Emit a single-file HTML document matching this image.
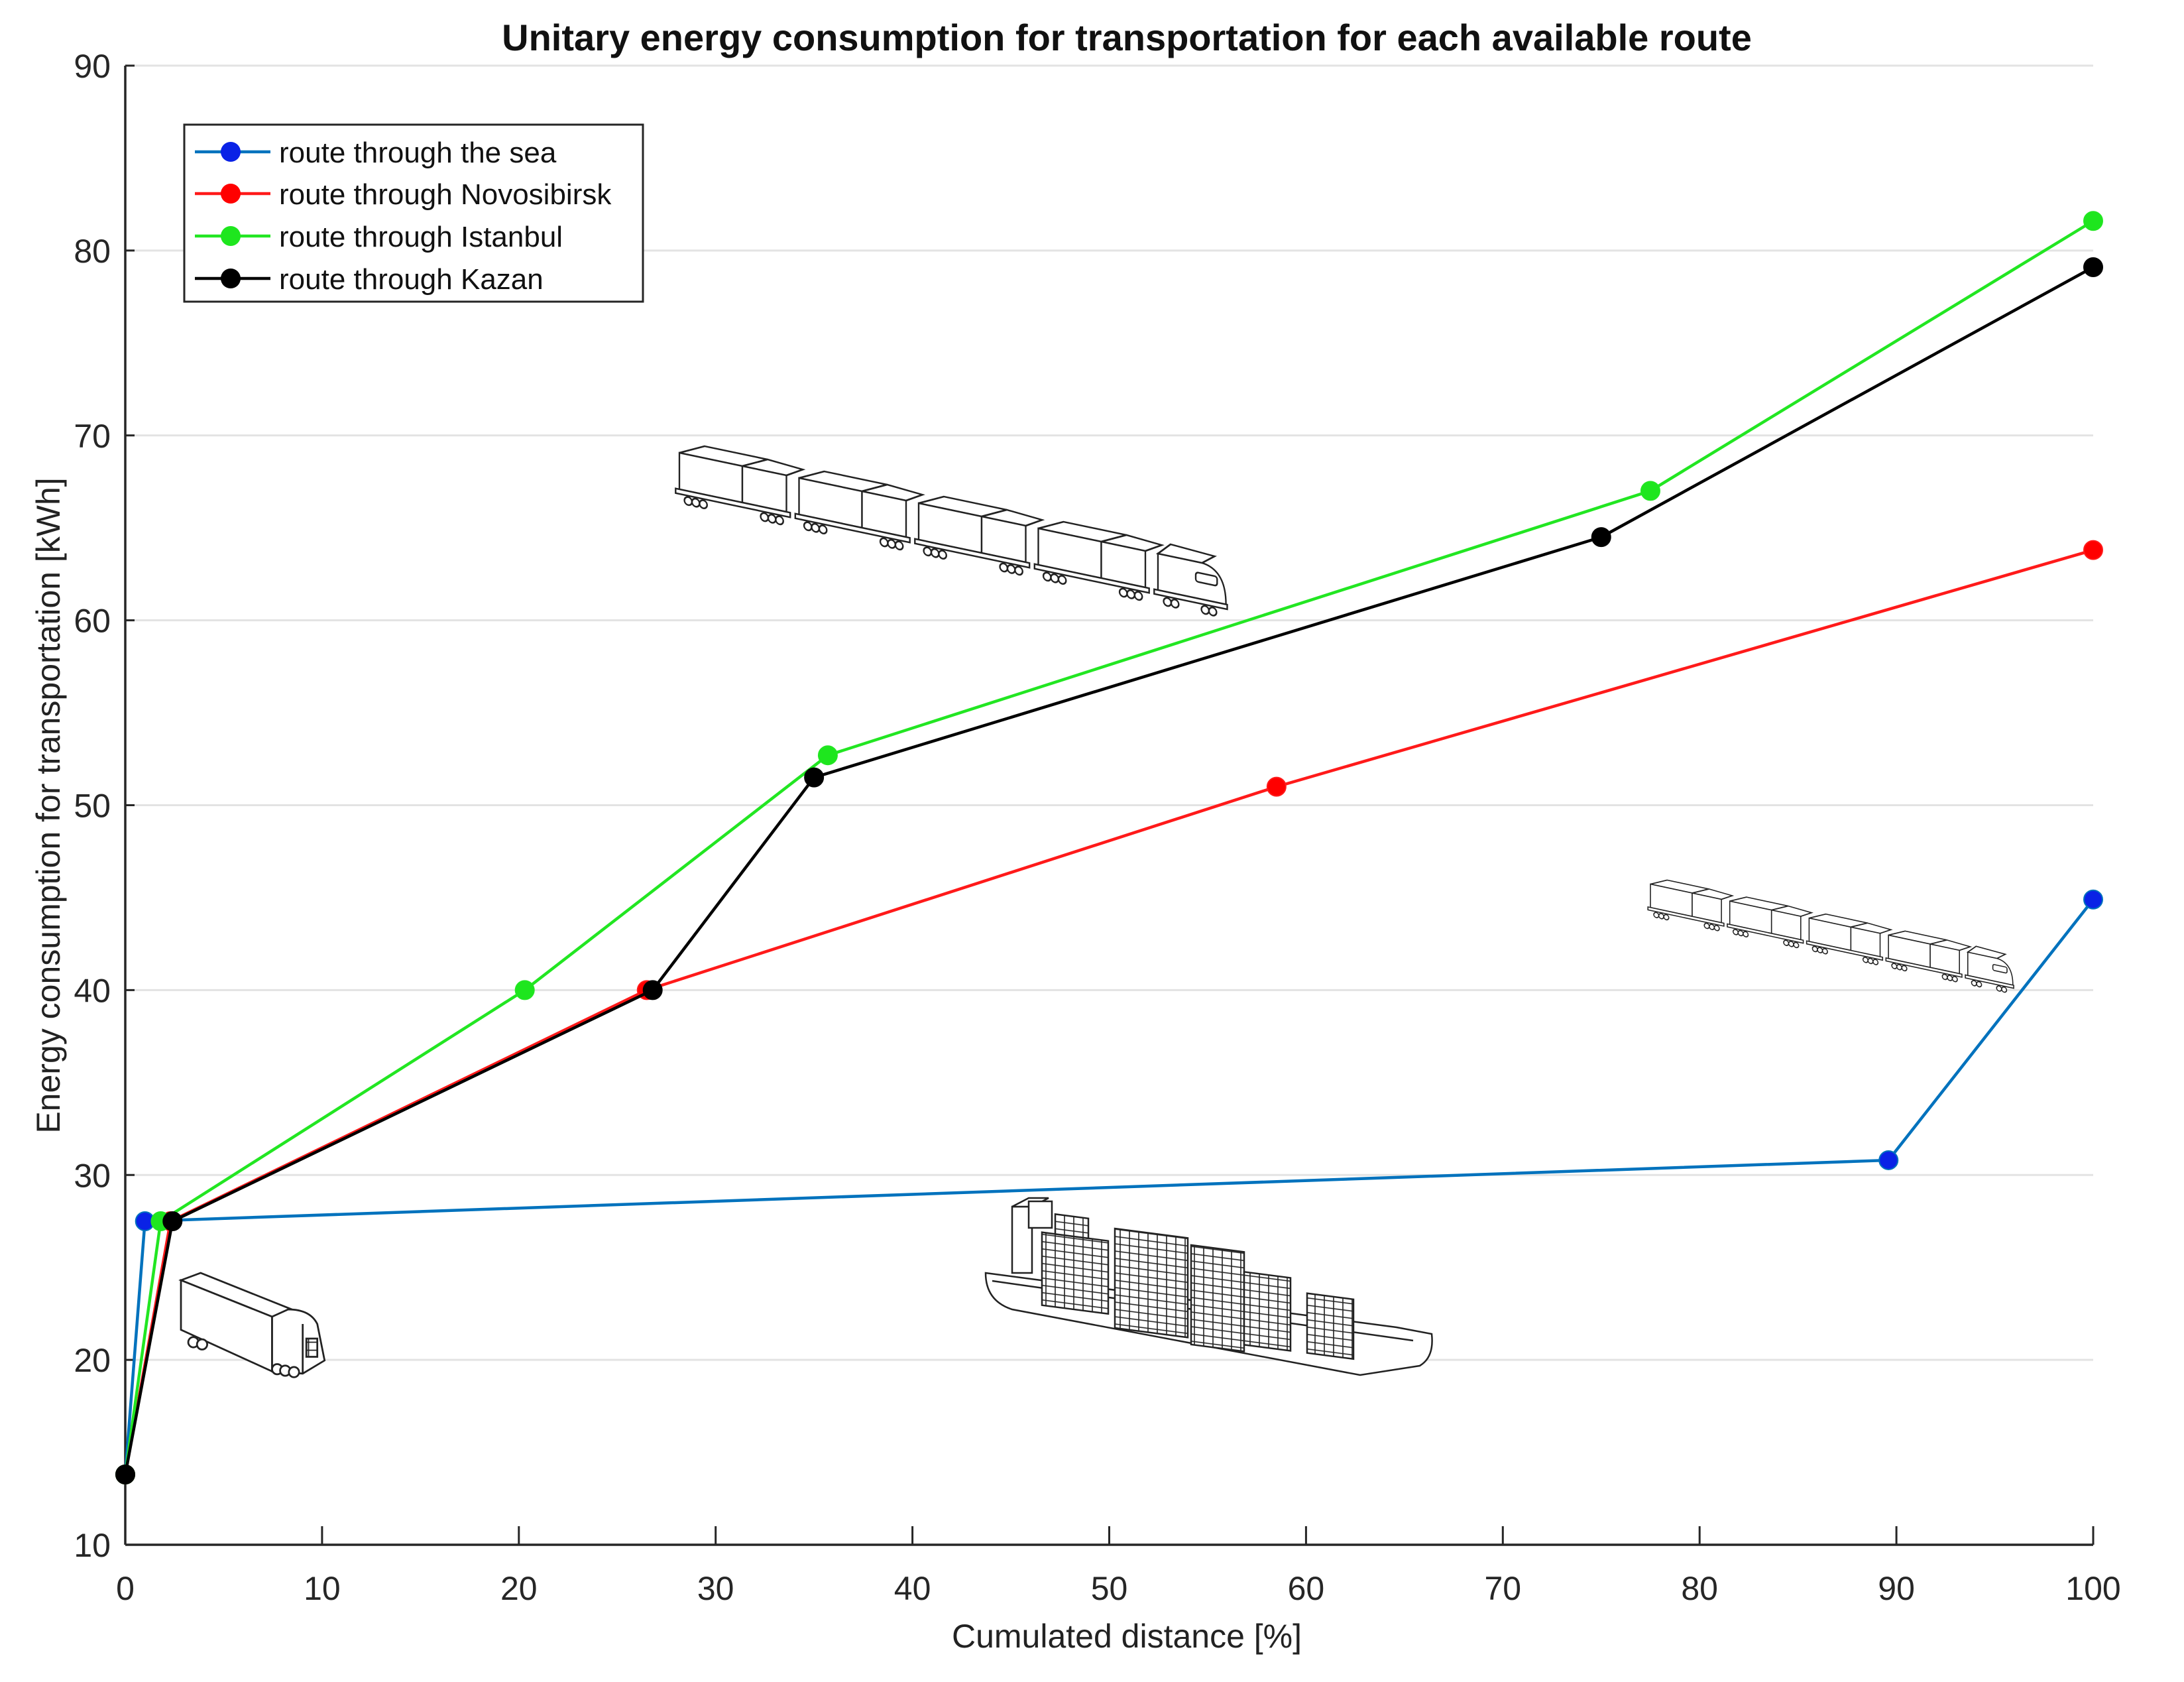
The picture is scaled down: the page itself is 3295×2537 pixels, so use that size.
<!DOCTYPE html>
<html><head><meta charset="utf-8">
<style>
html,body{margin:0;padding:0;background:#fff;}
svg{display:block;font-family:"Liberation Sans",Arial,sans-serif;}
</style></head>
<body>
<svg id="chart" width="3295" height="2537" viewBox="0 0 3295 2537" xmlns="http://www.w3.org/2000/svg">
<defs>
<pattern id="cont" width="14" height="11" patternUnits="userSpaceOnUse">
<rect width="14" height="11" fill="#fff" stroke="#222" stroke-width="1.6"/>
</pattern>
<g id="train">
  <g fill="#fff" stroke="#222" stroke-width="2.5">
    <g id="car">
      <polygon points="0,18 100,18 140,0 40,0"/>
      <rect x="0" y="18" width="100" height="55"/>
      <polygon points="100,18 170,18 196,4 140,0 " />
      <rect x="100" y="18" width="70" height="55"/>
      <rect x="-6" y="73" width="182" height="7"/>
      <circle cx="14" cy="88" r="6"/><circle cx="26" cy="88" r="6"/><circle cx="38" cy="88" r="6"/>
      <circle cx="135" cy="88" r="6"/><circle cx="147" cy="88" r="6"/><circle cx="159" cy="88" r="6"/>
    </g>
    <use href="#car" x="190"/>
    <use href="#car" x="380"/>
    <use href="#car" x="570"/>
    <path d="M760,18 L830,18 Q868,22 868,73 L760,73 Z"/>
    <polygon points="760,18 830,18 850,4 780,0"/>
    <rect x="820" y="34" width="34" height="14" rx="4"/>
    <rect x="754" y="73" width="116" height="7"/>
    <circle cx="775" cy="88" r="6"/><circle cx="787" cy="88" r="6"/><circle cx="835" cy="88" r="6"/><circle cx="847" cy="88" r="6"/>
  </g>
</g>
</defs>

<rect width="3295" height="2537" fill="#fff"/>
<g id="grid"></g>
<g id="pictures">
  <g transform="matrix(0.95,0.2,0,1,1025,665)"><use href="#train"/></g>
  <g transform="matrix(0.63,0.135,0,0.64,2490,1322)"><use href="#train"/></g>
  <g fill="#fff" stroke="#222" stroke-width="2.5" transform="translate(-18,-28)">
    <path d="M1505,1948 L2125,2030 L2178,2040 Q2182,2075 2160,2088 L2070,2102 L1545,2003 Q1505,1990 1505,1948 Z"/>
    <path d="M1515,1960 L2150,2050" fill="none"/>
    <rect x="1545" y="1848" width="30" height="100"/>
    <polygon points="1545,1848 1575,1848 1600,1835 1570,1835"/>
    <rect x="1570" y="1840" width="35" height="40"/>
    <g transform="matrix(1,0.13,0,1,0,0)">
      <rect x="1590" y="1680" width="100" height="110" fill="url(#cont)"/>
      <rect x="1610" y="1650" width="50" height="30" fill="url(#cont)"/>
      <rect x="1700" y="1660" width="110" height="150" fill="url(#cont)"/>
      <rect x="1815" y="1670" width="80" height="150" fill="url(#cont)"/>
      <rect x="1895" y="1700" width="70" height="110" fill="url(#cont)"/>
      <rect x="1990" y="1720" width="70" height="90" fill="url(#cont)"/>
    </g>
  </g>
  <g fill="#fff" stroke="#222" stroke-width="2.5" transform="translate(273,1920) scale(1.1) translate(-273,-1940)">
    <polygon points="273,1950 300,1940 425,1990 398,2000"/>
    <polygon points="273,1950 398,2000 398,2075 273,2018"/>
    <path d="M398,2000 L420,1990 Q450,1990 460,2010 L470,2060 L440,2078 L398,2075 Z"/>
    <path d="M440,2010 L440,2078" fill="none"/>
    <rect x="445" y="2030" width="15" height="25" fill="url(#cont)"/>
    <circle cx="290" cy="2035" r="7"/><circle cx="302" cy="2038" r="7"/>
    <circle cx="405" cy="2072" r="7"/><circle cx="416" cy="2074" r="7"/><circle cx="428" cy="2076" r="7"/>
  </g>
</g>
<g id="axes"></g>
<g id="series"></g>
<text x="1700" y="76" text-anchor="middle" font-size="56" font-weight="bold" fill="#111">Unitary energy consumption for transportation for each available route</text>
<text x="1700" y="2485" text-anchor="middle" font-size="50" fill="#222">Cumulated distance [%]</text>
<text transform="translate(90,1215) rotate(-90)" text-anchor="middle" font-size="50" fill="#222">Energy consumption for transportation [kWh]</text>
<g id="legend"></g>

<script>
const xTicks = [0,10,20,30,40,50,60,70,80,90,100];
const yTicks = [10,20,30,40,50,60,70,80,90];
const seriesNames = ["route through the sea","route through Novosibirsk","route through Istanbul","route through Kazan"];
const seaX = [0,1,89.6,100];
const seaY = [13.8,27.5,30.8,44.9];
const novX = [0,2.3,26.5,58.5,100];
const novY = [13.8,27.5,40,51,63.8];
const istX = [0,1.8,20.3,35.7,77.5,100];
const istY = [13.8,27.5,40,52.7,67,81.6];
const kazX = [0,2.4,26.8,35,75,100];
const kazY = [13.8,27.5,40,51.5,64.5,79.1];

const NS="http://www.w3.org/2000/svg";
const X0=189,X1=3158,Y0=2330,Y1=99;
function sx(v){return X0+(v-0)/(100-0)*(X1-X0);}
function sy(v){return Y0-(v-10)/(90-10)*(Y0-Y1);}
function mk(tag,attrs,parent){const e=document.createElementNS(NS,tag);for(const k in attrs)e.setAttribute(k,attrs[k]);parent.appendChild(e);return e;}

const grid=document.getElementById('grid');
const axes=document.getElementById('axes');
yTicks.forEach(t=>{
  if(t>10){
    const g=mk('line',{x1:X0,x2:X1,y1:sy(t),y2:sy(t),stroke:'#e3e3e3','stroke-width':3},grid);
    
    
  }
  const tk=mk('line',{x1:X0,x2:X0+14,y1:sy(t),y2:sy(t),stroke:'#262626','stroke-width':3},axes);
  
  
  const lb=mk('text',{x:X0-22,y:sy(t)+18,'text-anchor':'end','font-size':50,fill:'#262626'},axes);
  lb.textContent=t;
  
  
});
xTicks.forEach(t=>{
  const tk=mk('line',{x1:sx(t),x2:sx(t),y1:Y0,y2:Y0-28,stroke:'#262626','stroke-width':3},axes);
  
  
  const lb=mk('text',{x:sx(t),y:Y0+83,'text-anchor':'middle','font-size':50,fill:'#262626'},axes);
  lb.textContent=t;
  
  
});
const ya=mk('line',{x1:X0,x2:X0,y1:Y1,y2:Y0,stroke:'#262626','stroke-width':3.5},axes);


const xa=mk('line',{x1:X0,x2:X1,y1:Y0,y2:Y0,stroke:'#262626','stroke-width':3.5},axes);



const seriesG=document.getElementById('series');
const allX=[seaX,novX,istX,kazX], allY=[seaY,novY,istY,kazY];
const lineCol=['#0072BD','#ff1a1a','#22e622','#000'];
const markCol=['#0a22e6','#ff0000','#1ee61e','#000'];
const keys=['sea','novosibirsk','istanbul','kazan'];
allX.forEach((xs,i)=>{
  const ys=allY[i];
  const g=mk('g',{},seriesG);
  
  
  const pl=mk('polyline',{points:xs.map((x,j)=>sx(x)+','+sy(ys[j])).join(' '),fill:'none',stroke:lineCol[i],'stroke-width':4.5},g);
  
  
  xs.forEach((x,j)=>{
    const c=mk('circle',{cx:sx(x),cy:sy(ys[j]),r:14,fill:markCol[i],stroke:i==3?'#000':lineCol[i],'stroke-width':2},g);
    
    
  });
});

const leg=document.getElementById('legend');
const lb=mk('rect',{x:278,y:188,width:692,height:267,fill:'#fff',stroke:'#262626','stroke-width':3},leg);


const legY=[229,292,356,420];
seriesNames.forEach((n,i)=>{
  const g=mk('g',{},leg);
  
  
  mk('line',{x1:294,x2:408,y1:legY[i],y2:legY[i],stroke:lineCol[i],'stroke-width':4.5},g);
  mk('circle',{cx:348,cy:legY[i],r:15,fill:markCol[i]},g);
  const t=mk('text',{x:421,y:legY[i]+16,'font-size':44,fill:'#111'},g);
  t.textContent=n;
});
</script>
</svg>
</body></html>
